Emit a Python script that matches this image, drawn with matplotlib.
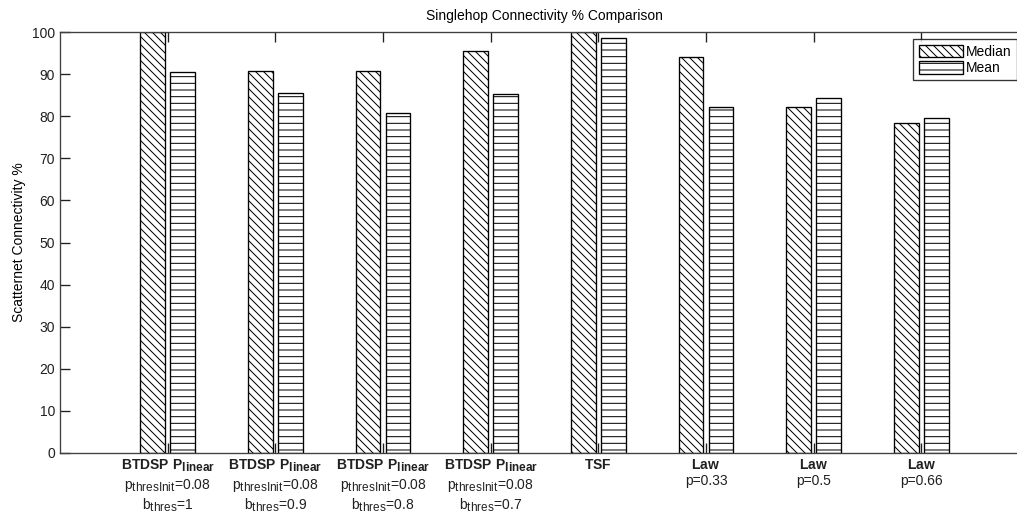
import numpy as np
import matplotlib
matplotlib.use('Agg')
import matplotlib.pyplot as plt
import matplotlib._mathtext as mathtext_impl

plt.rcParams['font.family'] = ['Liberation Sans', 'DejaVu Sans']
plt.rcParams['mathtext.fontset'] = 'custom'
plt.rcParams['mathtext.rm'] = 'Liberation Sans'
plt.rcParams['mathtext.bf'] = 'Liberation Sans:bold'
plt.rcParams['mathtext.default'] = 'regular'
plt.rcParams['hatch.linewidth'] = 0.6
# larger subscripts in the tick labels
mathtext_impl.SHRINK_FACTOR = 0.85

# Connectivity results per algorithm
median_pct = [100, 90.8, 90.8, 95.5, 100, 94.0, 82.1, 78.3]
mean_pct = [90.6, 85.4, 80.8, 85.2, 98.5, 82.3, 84.4, 79.5]

btdsp = r'$\mathbf{BTDSP\ P_{linear}}$'
tick_labels = [
    btdsp + '\n' + r'$p_{thresInit}$=0.08' + '\n' + r'$b_{thres}$=1',
    btdsp + '\n' + r'$p_{thresInit}$=0.08' + '\n' + r'$b_{thres}$=0.9',
    btdsp + '\n' + r'$p_{thresInit}$=0.08' + '\n' + r'$b_{thres}$=0.8',
    btdsp + '\n' + r'$p_{thresInit}$=0.08' + '\n' + r'$b_{thres}$=0.7',
    r'$\mathbf{TSF}$',
    r'$\mathbf{Law}$' + '\np=0.33',
    r'$\mathbf{Law}$' + '\np=0.5',
    r'$\mathbf{Law}$' + '\np=0.66',
]

x = np.arange(1, len(median_pct) + 1)
fs = 8.3

fig = plt.figure(figsize=(1018 / 120, 516 / 120), dpi=120)
ax = fig.add_axes([60 / 1018, 1 - 453 / 516, 969 / 1018, 421 / 516])

ax.bar(x - 0.14, median_pct, width=0.23, color='white', edgecolor='black',
       hatch='\\\\\\\\\\', linewidth=0.8, label='Median')
ax.bar(x + 0.14, mean_pct, width=0.23, color='white', edgecolor='black',
       hatch='---', linewidth=0.8, label='Mean')

ax.set_xlim(0, 9)
ax.set_ylim(0, 100)
ax.set_yticks(np.arange(0, 101, 10))
ax.set_xticks(x)
ax.set_xticklabels(tick_labels, fontsize=fs, linespacing=1.2)

ax.tick_params(direction='in', length=6, width=0.8, top=True, right=True,
               labelsize=fs, colors='#202020', pad=3)
for s in ax.spines.values():
    s.set_color('#404040')
    s.set_linewidth(0.8)

ax.set_title('Singlehop Connectivity % Comparison', fontsize=fs, pad=7)
ax.set_ylabel('Scatternet Connectivity %', fontsize=fs)
ax.yaxis.set_label_coords(-0.035, 0.5)

leg = ax.legend(loc='upper left', bbox_to_anchor=((913 - 60) / 969, (453 - 39) / 421),
                fontsize=fs, frameon=True, fancybox=False, borderpad=0.4,
                handlelength=3.2, handleheight=1.05, labelspacing=0.15,
                handletextpad=0.2, borderaxespad=0)
leg.get_frame().set_edgecolor('black')
leg.get_frame().set_linewidth(0.8)

fig.savefig('out.png', dpi=120)
